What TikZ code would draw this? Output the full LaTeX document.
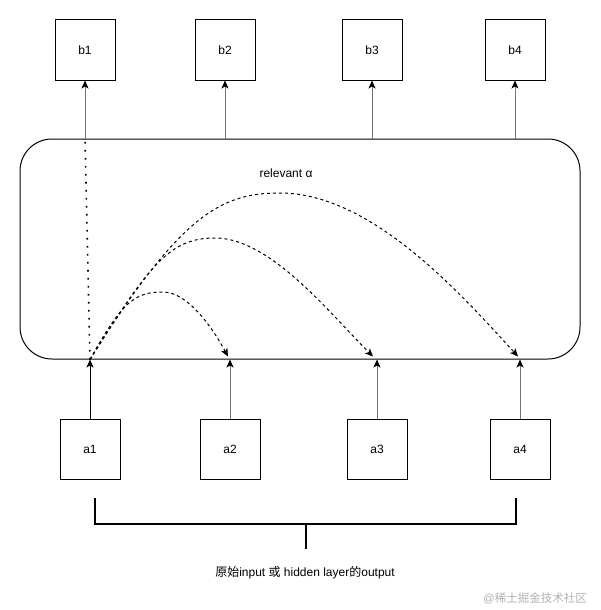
\documentclass[tikz,border=0pt]{standalone}
\usepackage{fontspec}
\setmainfont{Liberation Sans}
\newfontfamily\cjk{Noto Sans CJK SC}
\usetikzlibrary{arrows.meta,calc}
\tikzset{
  box/.style={draw, line width=1pt, minimum width=60pt, minimum height=60pt, inner sep=0pt, font=\fontsize{12}{14}\selectfont},
  uparrow/.style={draw=black!55, line width=1pt, -{Stealth[black,length=8pt,width=7pt,inset=2pt]}},
  attn/.style={draw, dash pattern=on 3pt off 3pt, line width=1pt, -{Stealth[length=8pt,width=7pt,inset=2pt]}},
  dotline/.style={draw, line width=1.6pt, dash pattern=on 1.6pt off 6.4pt},
  bracket/.style={draw, line width=2pt},
  lbl/.style={font=\fontsize{12}{14}\selectfont}
}
\begin{document}
\begin{tikzpicture}[x=1pt,y=-1pt]
\useasboundingbox (0,0) rectangle (601,610);
\fill[white] (0,0) rectangle (601,610);
% top boxes
\node[box] (b1) at (85,50) {b1};
\node[box] (b2) at (225,50) {b2};
\node[box] (b3) at (372,50) {b3};
\node[box] (b4) at (515,50) {b4};
% bottom boxes
\node[box] (a1) at (90,449) {a1};
\node[box] (a2) at (230,449) {a2};
\node[box] (a3) at (377,449) {a3};
\node[box] (a4) at (520,449) {a4};
% attention block
\node[draw, line width=1pt, rounded corners=32pt, minimum width=560pt, minimum height=220pt, inner sep=0pt] (att) at (300,249) {};
\node[lbl] (rel) at (286,173) {relevant α};
% connectors
\coordinate (s1) at (a1 |- att.south);
\coordinate (s2) at (a2 |- att.south);
\coordinate (s3) at (a3 |- att.south);
\coordinate (s4) at (a4 |- att.south);
\draw[uparrow, draw=black] (a1.north) -- (s1);
\draw[uparrow] (a2.north) -- (s2);
\draw[uparrow] (a3.north) -- (s3);
\draw[uparrow] (a4.north) -- (s4);
\coordinate (t1) at (b1 |- att.north);
\coordinate (t2) at (b2 |- att.north);
\coordinate (t3) at (b3 |- att.north);
\coordinate (t4) at (b4 |- att.north);
\draw[uparrow] (t1) -- (b1.south);
\draw[uparrow] (t2) -- (b2.south);
\draw[uparrow] (t3) -- (b3.south);
\draw[uparrow] (t4) -- (b4.south);
\draw[dotline] (s1) -- (t1);
% attention curves
\coordinate (p1) at (163,292);
\coordinate (p2) at (215,238);
\coordinate (p3) at (280,193);
\coordinate (e2) at ($(s2)+(-2,-3)$);
\coordinate (e3) at ($(s3)+(-4,-3)$);
\coordinate (e4) at ($(s4)+(-2,-3)$);
\draw[attn] (s1) .. controls +(32,-58) and +(-28,0) .. (p1) .. controls +(25,0) and +(-15,-28) .. (e2);
\draw[attn] (s1) .. controls +(60,-96) and +(-45,0) .. (p2) .. controls +(55,0) and +(-45,-45) .. (e3);
\draw[attn] (s1) .. controls +(90,-144) and +(-60,0) .. (p3) .. controls +(90,0) and +(-60,-66) .. (e4);
% bracket
\coordinate (bl) at (95,498);
\coordinate (br) at (516,498);
\coordinate (bm) at (306,524);
\draw[bracket] (bl) -- (95,524) -- (516,524) -- (br);
\draw[bracket] (bm) -- (306,549);
\node[lbl] (cap) at (305,573) {{\cjk 原始}input {\cjk 或} hidden layer{\cjk 的}output};
\node[font=\fontsize{11.5}{13}\selectfont, text=black!30] (wm) at (535,598) {@{\cjk 稀土掘金技术社区}};
\end{tikzpicture}
\end{document}
